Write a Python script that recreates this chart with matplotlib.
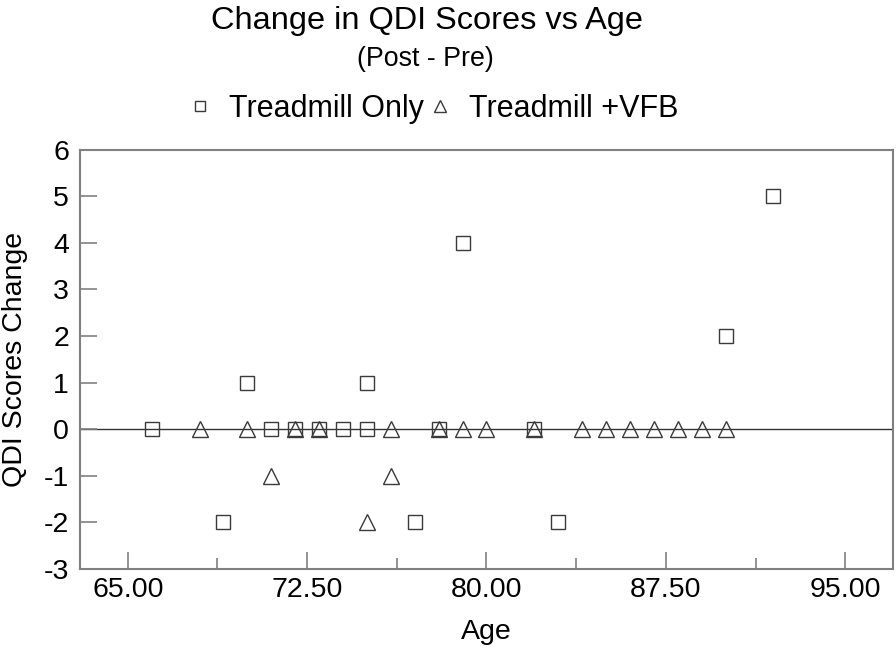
import matplotlib
matplotlib.use("Agg")
import matplotlib.pyplot as plt
from matplotlib.lines import Line2D

plt.rcParams['font.family'] = ['Liberation Sans', 'DejaVu Sans']

# Treadmill Only (squares)
only_age = [66, 69, 70, 71, 72, 73, 74, 75, 75, 77, 78, 79, 82, 83, 90, 92]
only_change = [0, -2, 1, 0, 0, 0, 0, 1, 0, -2, 0, 4, 0, -2, 2, 5]

# Treadmill +VFB (triangles)
vfb_age = [68, 70, 71, 72, 73, 75, 76, 76, 78, 79, 80, 82, 84, 85, 86, 87, 88, 89, 90]
vfb_change = [0, 0, -1, 0, 0, -2, 0, -1, 0, 0, 0, 0, 0, 0, 0, 0, 0, 0, 0]

xticks = [65.0, 72.5, 80.0, 87.5, 95.0]
xtick_labels = ["65.00", "72.50", "80.00", "87.50", "95.00"]
yticks = [-3, -2, -1, 0, 1, 2, 3, 4, 5, 6]

W, H = 896, 649
fig = plt.figure(figsize=(W / 100, H / 100), dpi=100)
ax = fig.add_axes([80 / W, 1 - 569 / H, (893 - 80) / W, (569 - 149.5) / H])

edge = '#3a3a3a'
ax.axhline(0, color='#333333', lw=1.0, zorder=1)
ax.plot(only_age, only_change, ls='none', marker='s', ms=10.5, mfc='none',
        mec=edge, mew=1.0, zorder=3)
ax.plot(vfb_age, vfb_change, ls='none', marker='^', ms=11, mfc='none',
        mec=edge, mew=1.0, zorder=3)

ax.set_xlim(63, 97)
ax.set_ylim(-3, 6)
ax.set_xticks(xticks)
ax.set_xticklabels(xtick_labels)
ax.set_xticks([68.75, 76.25, 83.75, 91.25], minor=True)
ax.set_yticks(yticks)
ax.set_yticklabels([str(v) for v in yticks])

for s in ax.spines.values():
    s.set_color('#808080')
    s.set_linewidth(1.5)

ax.tick_params(axis='both', which='major', direction='in', length=12,
               width=1.2, color='#808080', labelsize=20.5)
ax.tick_params(axis='x', which='minor', direction='in', length=8,
               width=1.2, color='#808080')
ax.tick_params(axis='x', pad=6)
ax.tick_params(axis='y', pad=8)

ax.set_xlabel("Age", fontsize=20.5, labelpad=11)
ax.set_ylabel("QDI Scores Change", fontsize=20.5, labelpad=11)

fig.text(427 / W, 1 - 29 / H, "Change in QDI Scores vs Age", ha='center',
         va='baseline', fontsize=23.4)
fig.text(425 / W, 1 - 66 / H, "(Post - Pre)", ha='center', va='baseline',
         fontsize=19.3)

handles = [Line2D([], [], ls='none', marker='s', ms=7.5, mfc='none', mec=edge, mew=1.0),
           Line2D([], [], ls='none', marker='^', ms=9, mfc='none', mec=edge, mew=1.0)]
fig.legend(handles, ["Treadmill Only", "Treadmill +VFB"], loc='center',
           bbox_to_anchor=(433 / W, 1 - 109 / H), ncol=2, frameon=False,
           fontsize=22, handletextpad=0.55, columnspacing=0.1, handlelength=0.8)

fig.savefig("out.png", dpi=100)
